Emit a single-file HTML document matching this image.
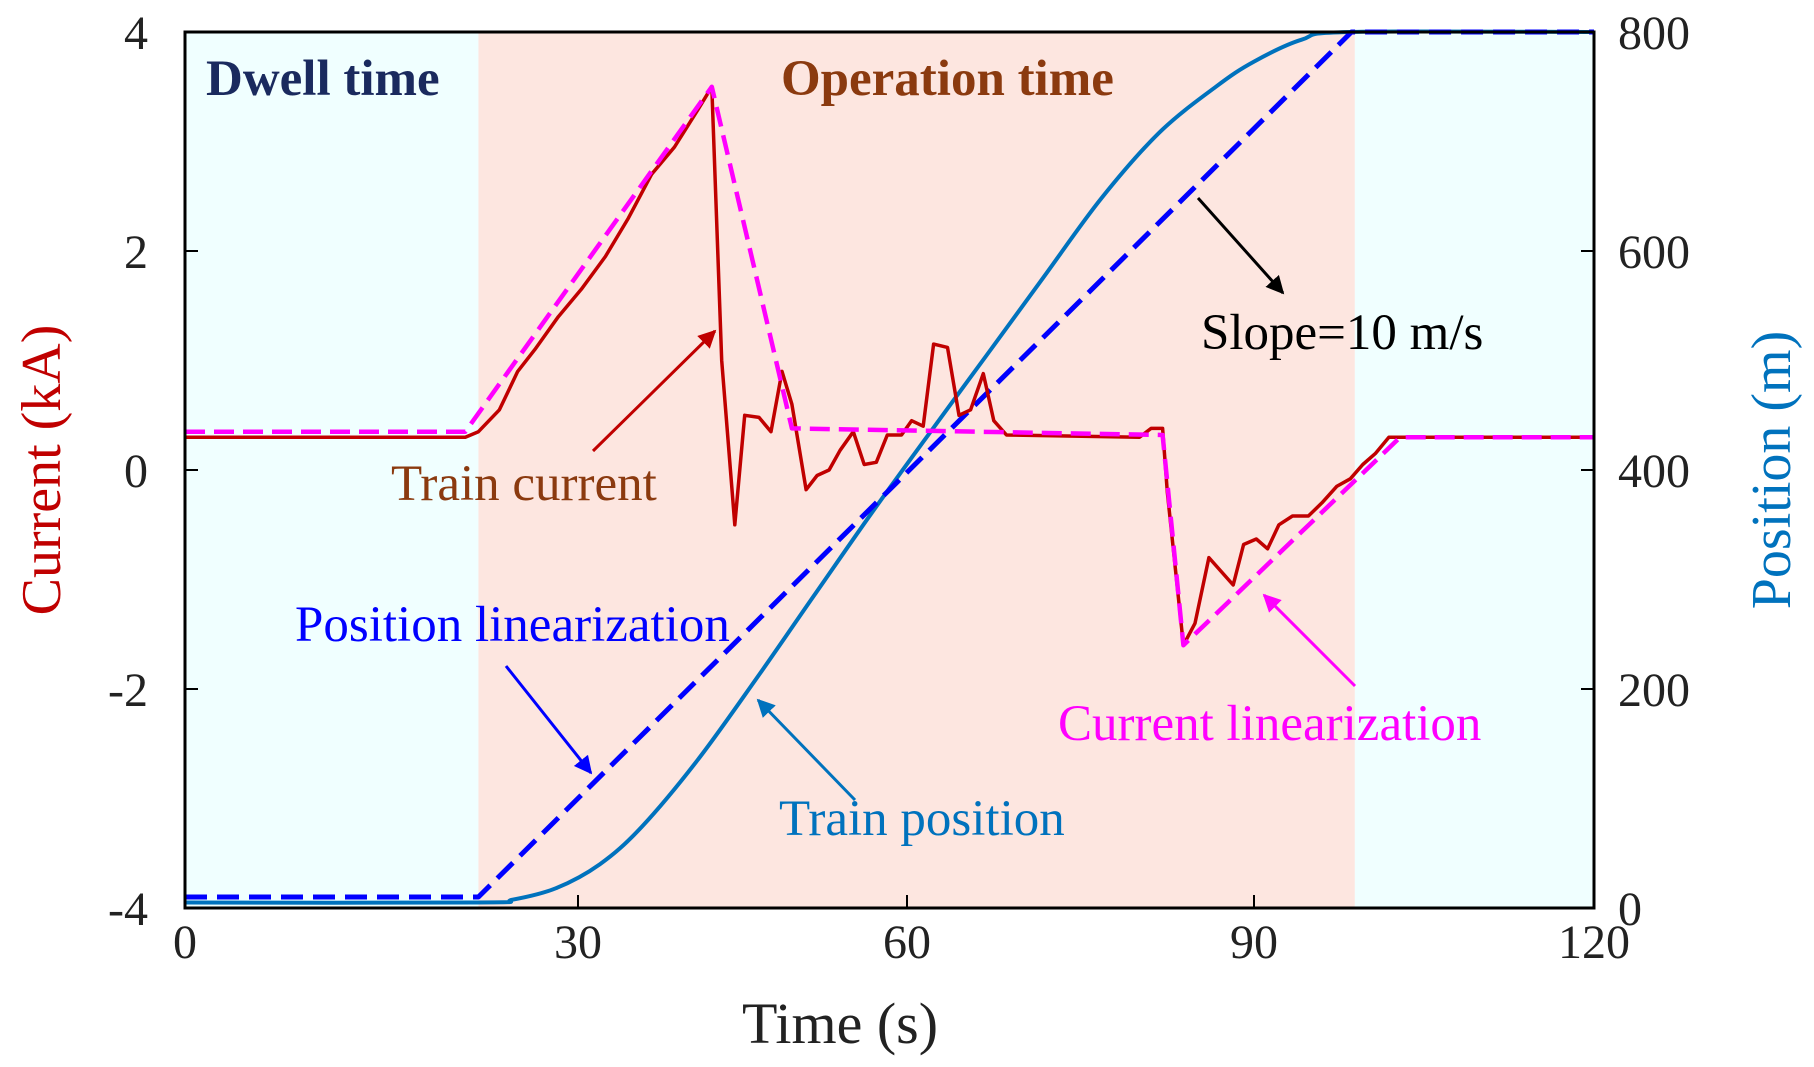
<!DOCTYPE html>
<html><head><meta charset="utf-8"><style>
html,body{margin:0;padding:0;background:#fff;}
svg{display:block;font-family:"Liberation Serif",serif;}
</style></head><body>
<svg id="chart" width="1814" height="1067" viewBox="0 0 1814 1067"></svg>
<script>
const xTicks=[0,30,60,90,120];
const xTickPix=[185,578,907,1254,1594];
const curTicks=[-4,-2,0,2,4];
const posTicks=[0,200,400,600,800];
const dwellEnd=22.4, operEnd=98.9;
const curT=[0,21.4,22.4,24.0,25.4,26.7,28.5,30.3,32.5,34.6,36.7,38.8,41.0,42.2,43.1,44.3,45.2,46.5,47.6,48.6,49.5,50.8,51.8,52.9,53.9,55.1,56.1,57.2,58.2,59.5,60.4,61.4,62.3,63.5,64.5,65.5,66.6,67.5,68.6,80.1,81.1,82.1,82.5,83.9,84.9,86.1,88.2,89.1,90.2,91.2,92.2,93.4,94.8,96.0,97.3,98.5,99.6,100.7,101.9,120];
const curV=[0.3,0.3,0.35,0.55,0.9,1.1,1.4,1.65,1.95,2.3,2.7,2.95,3.3,3.5,1.0,-0.5,0.5,0.48,0.35,0.9,0.6,-0.18,-0.05,0.0,0.18,0.35,0.05,0.07,0.32,0.32,0.45,0.4,1.15,1.12,0.5,0.55,0.88,0.45,0.32,0.3,0.38,0.38,-0.2,-1.6,-1.4,-0.8,-1.05,-0.68,-0.63,-0.72,-0.5,-0.42,-0.42,-0.3,-0.15,-0.08,0.05,0.15,0.3,0.3];
const linCurT=[0,21.4,42.2,49.5,82.1,83.9,102.9,120];
const linCurV=[0.35,0.35,3.5,0.38,0.32,-1.6,0.3,0.3];
const posT=[0,22.4,25,28.3,32,35.8,40.9,46.3,51.5,56.8,61.9,66.9,71.8,76.8,81.8,86.7,90,94.2,98.4,120];
const posV=[5,5,7.6,18,40,74,135,210,285,361,433,505,576,648,708,750,773,793,800,800];
const linPosT=[0,22.4,98.6,120];
const linPosV=[10,10,800,800];

const L=185,R=1594,T=32,B=908;
function xs(t){for(let i=0;i<xTicks.length-1;i++){if(t<=xTicks[i+1]||i===xTicks.length-2){return xTickPix[i]+(t-xTicks[i])/(xTicks[i+1]-xTicks[i])*(xTickPix[i+1]-xTickPix[i]);}}}
function yc(v){return B-(v+4)/8*(B-T);}
function yp(v){return B-v/800*(B-T);}
const NS="http://www.w3.org/2000/svg";
const svg=document.getElementById('chart');
function mk(tag,attrs,parent){const e=document.createElementNS(NS,tag);for(const k in attrs)e.setAttribute(k,attrs[k]);(parent||svg).appendChild(e);return e;}
const defs=mk('defs',{});
function marker(id,color){const m=mk('marker',{id:id,viewBox:'0 0 10 10',refX:'9',refY:'5',markerWidth:'6',markerHeight:'6',orient:'auto'},defs);mk('path',{d:'M0,0 L10,5 L0,10 z',fill:color},m);}
marker('aBlack','#000');marker('aRed','#c00000');marker('aBlue','#0000ff');marker('aPos','#0072bd');marker('aMag','#ff00ff');

let r=mk('rect',{x:L,y:T,width:xs(dwellEnd)-L,height:B-T,fill:'#f0ffff'});


r=mk('rect',{x:xs(dwellEnd),y:T,width:xs(operEnd)-xs(dwellEnd),height:B-T,fill:'#fde6e0'});


r=mk('rect',{x:xs(operEnd),y:T,width:R-xs(operEnd),height:B-T,fill:'#f0ffff'});



function line(ts,vs,f,attrs,name){const d=ts.map((t,i)=>(i?'L':'M')+xs(t).toFixed(1)+','+f(vs[i]).toFixed(1)).join(' ');const p=mk('path',Object.assign({d:d,fill:'none','stroke-linejoin':'round'},attrs));return p;}
function smooth(ts,vs,f,attrs,name){
 const P=ts.map((t,i)=>[xs(t),f(vs[i])]);
 let d='M'+P[0][0].toFixed(1)+','+P[0][1].toFixed(1);
 for(let i=0;i<P.length-1;i++){const p0=P[Math.max(0,i-1)],p1=P[i],p2=P[i+1],p3=P[Math.min(P.length-1,i+2)];
  const c1=[p1[0]+(p2[0]-p0[0])/6,p1[1]+(p2[1]-p0[1])/6],c2=[p2[0]-(p3[0]-p1[0])/6,p2[1]-(p3[1]-p1[1])/6];
  d+=' C'+c1[0].toFixed(1)+','+c1[1].toFixed(1)+' '+c2[0].toFixed(1)+','+c2[1].toFixed(1)+' '+p2[0].toFixed(1)+','+p2[1].toFixed(1);}
 const p=mk('path',Object.assign({d:d,fill:'none'},attrs));return p;}
smooth(posT,posV,yp,{stroke:'#0072bd','stroke-width':4},'train-position-line');
line(linPosT,linPosV,yp,{stroke:'#0000ff','stroke-width':5,'stroke-dasharray':'22,10'},'position-linearization-line');
line(curT,curV,yc,{stroke:'#c00000','stroke-width':3.5},'train-current-line');
line(linCurT,linCurV,yc,{stroke:'#ff00ff','stroke-width':4.5,'stroke-dasharray':'20,9'},'current-linearization-line');

let ax=mk('rect',{x:L,y:T,width:R-L,height:B-T,fill:'none',stroke:'#000','stroke-width':3});



xTicks.forEach((t,i)=>{const x=xs(t);
 const tk=mk('line',{x1:x,y1:B,x2:x,y2:B-13,stroke:'#000','stroke-width':2});
 
 
 const tx=mk('text',{x:x,y:B+50,'text-anchor':'middle','font-size':48,fill:'#222'});tx.textContent=t;
 
 });
curTicks.forEach(v=>{const y=yc(v);
 const tk=mk('line',{x1:L,y1:y,x2:L+13,y2:y,stroke:'#000','stroke-width':2});
 
 
 const tx=mk('text',{x:148,y:y+17,'text-anchor':'end','font-size':48,fill:'#222'});tx.textContent=v;
 
 });
posTicks.forEach(v=>{const y=yp(v);
 const tk=mk('line',{x1:R,y1:y,x2:R-13,y2:y,stroke:'#000','stroke-width':2});
 
 
 const tx=mk('text',{x:1618,y:y+17,'text-anchor':'start','font-size':48,fill:'#222'});tx.textContent=v;
 
 });

function txt(s,x,y,attrs,name){const t=mk('text',Object.assign({x:x,y:y},attrs));t.textContent=s;return t;}
txt('Time (s)',840,1043,{'text-anchor':'middle','font-size':58,fill:'#222'},'x-axis-title');
txt('Current (kA)',0,0,{'text-anchor':'middle','font-size':56,fill:'#c00000',transform:'translate(60,470) rotate(-90)'},'left-y-axis-title');
txt('Position (m)',0,0,{'text-anchor':'middle','font-size':56,fill:'#0072bd',transform:'translate(1790,470) rotate(-90)'},'right-y-axis-title');
txt('Dwell time',206,95,{'font-size':51,'font-weight':'bold',fill:'#1a2a5e'},'dwell-time-label');
txt('Operation time',781,95,{'font-size':51,'font-weight':'bold',fill:'#8b3a0f'},'operation-time-label');
txt('Slope=10 m/s',1201,349,{'font-size':51,fill:'#000'},'slope-annotation');
txt('Train current',391,500,{'font-size':51,fill:'#8b3a0f'},'train-current-annotation');
txt('Position linearization',295,641,{'font-size':51,fill:'#0000ff'},'position-linearization-annotation');
txt('Current linearization',1058,740,{'font-size':51,fill:'#ff00ff'},'current-linearization-annotation');
txt('Train position',779,835,{'font-size':51,fill:'#0072bd'},'train-position-annotation');

function arrow(x1,y1,x2,y2,color,mid,name){const a=mk('line',{x1:x1,y1:y1,x2:x2,y2:y2,stroke:color,'stroke-width':3,'marker-end':'url(#'+mid+')'});}
arrow(1198,198,1283,293,'#000','aBlack','slope-arrow');
arrow(593,451,715,331,'#c00000','aRed','train-current-arrow');
arrow(506,666,591,773,'#0000ff','aBlue','position-linearization-arrow');
arrow(855,800,758,700,'#0072bd','aPos','train-position-arrow');
arrow(1355,686,1264,595,'#ff00ff','aMag','current-linearization-arrow');
</script>
</body></html>
